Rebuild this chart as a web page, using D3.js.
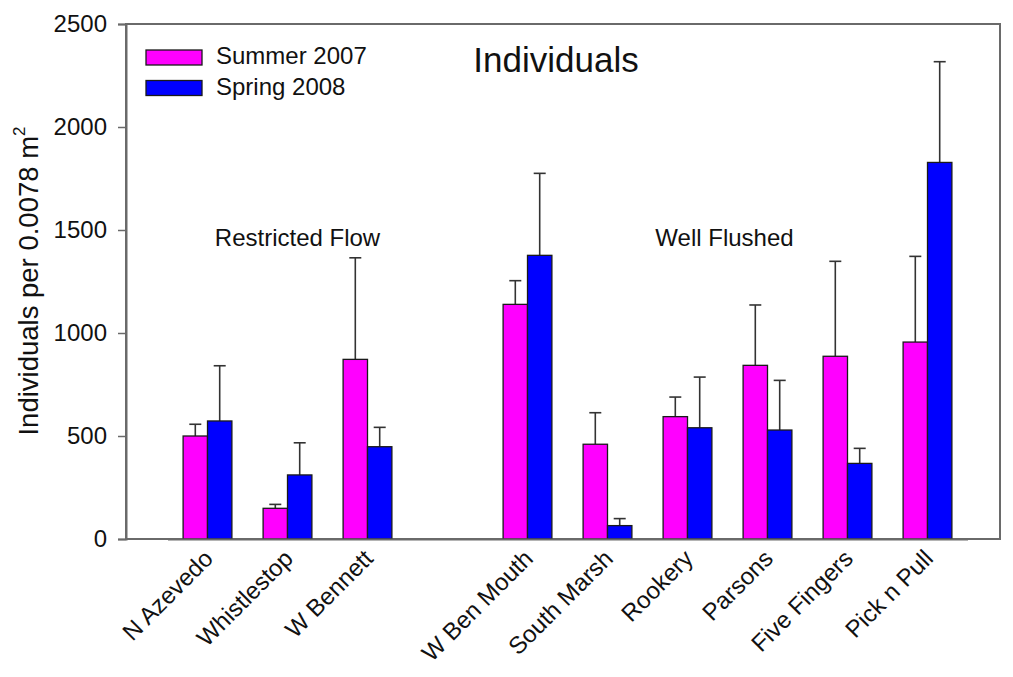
<!DOCTYPE html>
<html>
<head>
<meta charset="utf-8">
<script src="https://cdn.jsdelivr.net/npm/d3@7"></script>
<style>
  html, body { margin: 0; padding: 0; background: #fff; }
  svg { display: block; font-family: "Liberation Sans", Arial, sans-serif; }
</style>
</head>
<body>
<svg id="chart" width="1013" height="677"></svg>
<script>
// ---- data ----
const sites = ["N Azevedo", "Whistlestop", "W Bennett", "W Ben Mouth", "South Marsh", "Rookery", "Parsons", "Five Fingers", "Pick n Pull"];
const slots = ["N Azevedo", "Whistlestop", "W Bennett", "gap", "W Ben Mouth", "South Marsh", "Rookery", "Parsons", "Five Fingers", "Pick n Pull"];
const seriesNames = ["Summer 2007", "Spring 2008"];
const summer2007 = [500, 149, 872, 1139, 460, 594, 843, 887, 956];
const summer2007Err = [57, 19, 493, 115, 153, 95, 293, 461, 416];
const spring2008 = [573, 311, 448, 1377, 65, 540, 529, 367, 1828];
const spring2008Err = [268, 156, 94, 398, 34, 246, 241, 73, 489];
const yTicks = [0, 500, 1000, 1500, 2000, 2500];
const groupLabels = [
  { text: "Restricted Flow", from: "N Azevedo", to: "W Bennett" },
  { text: "Well Flushed", from: "W Ben Mouth", to: "Pick n Pull" }
];
const colors = ["#ff00ff", "#0000ff"];

// ---- layout ----
const L = 126, R = 1000, T = 24, B = 539;
const svg = d3.select("#chart");

const y = d3.scaleLinear().domain([0, 2500]).range([B, T]);
const x0 = d3.scaleBand().domain(slots).range([167.5, 967.5]).paddingInner(0.39).paddingOuter(0.195);
const x1 = d3.scaleBand().domain(seriesNames).range([0, x0.bandwidth()]);

const rows = [];
sites.forEach((s, i) => {
  rows.push({ site: s, series: seriesNames[0], v: summer2007[i], e: summer2007Err[i] });
  rows.push({ site: s, series: seriesNames[1], v: spring2008[i], e: spring2008Err[i] });
});
const color = d3.scaleOrdinal().domain(seriesNames).range(colors);

// frame (top + right)
svg.append("rect").attr("x", L).attr("y", T).attr("width", R - L).attr("height", B - T)
  .attr("fill", "none").attr("stroke", "#6a6a6a").attr("stroke-width", 2);

// error bars (drawn first, behind bars)
const capW = 12;
const eb = svg.append("g").attr("stroke", "#333").attr("stroke-width", 1.6);
rows.forEach(d => {
  const cx = x0(d.site) + x1(d.series) + x1.bandwidth() / 2;
  eb.append("line").attr("x1", cx).attr("x2", cx).attr("y1", y(d.v)).attr("y2", y(d.v + d.e));
  eb.append("line").attr("x1", cx - capW / 2).attr("x2", cx + capW / 2).attr("y1", y(d.v + d.e)).attr("y2", y(d.v + d.e));
});

// bars
svg.append("g").selectAll("rect").data(rows).join("rect")
  .attr("x", d => x0(d.site) + x1(d.series))
  .attr("y", d => y(d.v))
  .attr("width", x1.bandwidth())
  .attr("height", d => y(0) - y(d.v))
  .attr("fill", d => color(d.series))
  .attr("stroke", "#1a1a1a").attr("stroke-width", 1.3);

// y axis
const yAxis = svg.append("g").attr("transform", `translate(${L},0)`)
  .call(d3.axisLeft(y).tickValues(yTicks).tickSize(8).tickPadding(11).tickFormat(d3.format("d")));
yAxis.select(".domain").attr("stroke", "#6a6a6a").attr("stroke-width", 2);
yAxis.selectAll(".tick line").attr("stroke", "#6a6a6a").attr("stroke-width", 1.5);
yAxis.selectAll("text").attr("font-size", 24).attr("fill", "#111").attr("font-family", "Liberation Sans, Arial, sans-serif");

// x axis
const xAxis = svg.append("g").attr("transform", `translate(0,${B})`)
  .call(d3.axisBottom(x0).tickValues(sites).tickSize(0).tickPadding(0));
xAxis.select(".domain").attr("stroke", "#6a6a6a").attr("stroke-width", 2);
xAxis.selectAll(".tick text")
  .attr("font-size", 24).attr("fill", "#111").attr("font-family", "Liberation Sans, Arial, sans-serif")
  .attr("text-anchor", "end").attr("dy", null).attr("y", 0)
  .attr("transform", "translate(7,21) rotate(-45)");

// y label
svg.append("text").attr("transform", `translate(38,281) rotate(-90)`)
  .attr("text-anchor", "middle").attr("font-size", 27.5).attr("fill", "#111")
  .call(t => {
    t.append("tspan").text("Individuals per 0.0078 m");
    t.append("tspan").text("2").attr("font-size", 17).attr("dy", -13);
  });

// title
svg.append("text").attr("x", 556).attr("y", 72).attr("text-anchor", "middle")
  .attr("font-size", 35).attr("fill", "#111").text("Individuals");

// group labels
groupLabels.forEach(g => {
  const cx = (x0(g.from) + x0(g.to) + x0.bandwidth()) / 2;
  svg.append("text").attr("x", g.text === "Restricted Flow" ? cx + 10 : cx - 3).attr("y", 246)
    .attr("text-anchor", "middle").attr("font-size", 24).attr("fill", "#111").text(g.text);
});

// legend
const leg = svg.append("g");
seriesNames.forEach((s, i) => {
  leg.append("rect").attr("x", 146).attr("y", 50 + i * 30.5).attr("width", 56).attr("height", 15)
    .attr("fill", colors[i]).attr("stroke", "#1a1a1a").attr("stroke-width", 1.3);
  leg.append("text").attr("x", 216).attr("y", 64 + i * 31).attr("font-size", 24).attr("fill", "#111").text(s);
});
</script>
</body>
</html>
